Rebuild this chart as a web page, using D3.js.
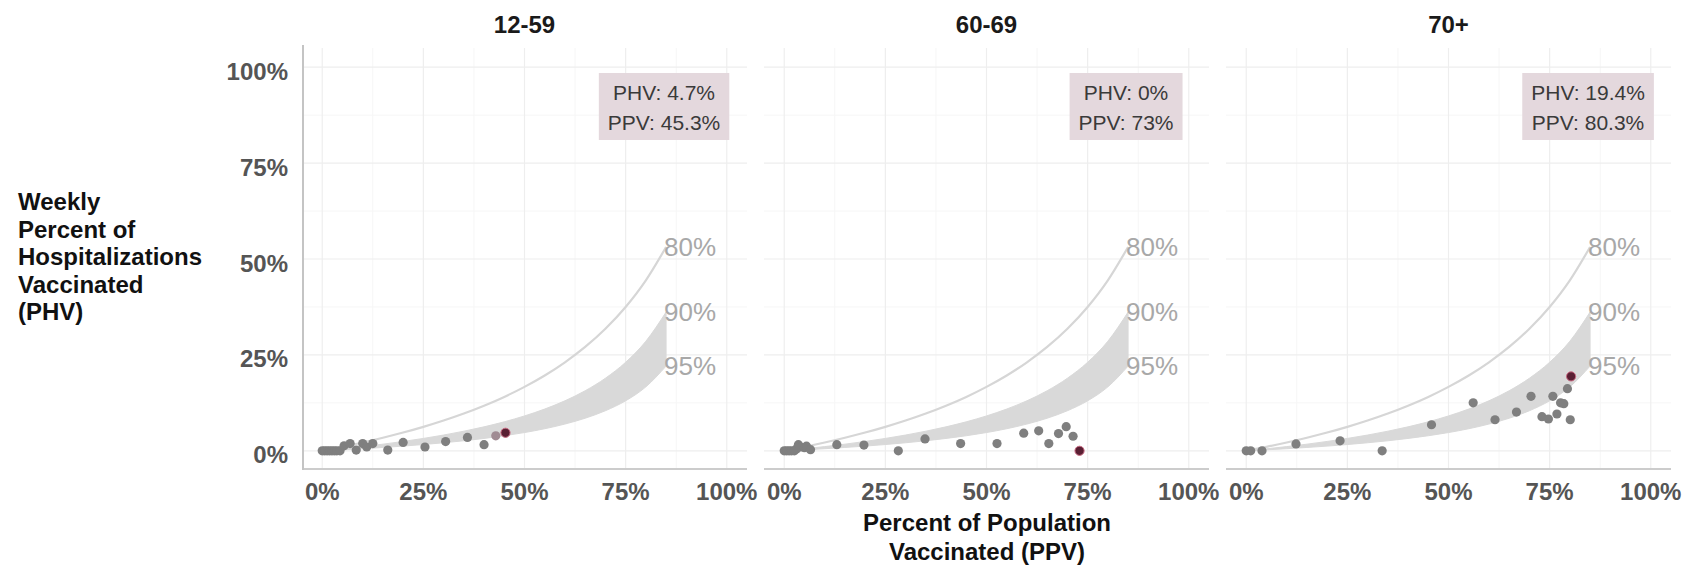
<!DOCTYPE html>
<html>
<head>
<meta charset="utf-8">
<script src="https://cdn.jsdelivr.net/npm/d3@7"></script>
<style>
  html, body { margin: 0; padding: 0; background: #ffffff; }
  svg { display: block; font-family: "Liberation Sans", Arial, Helvetica, sans-serif; }
</style>
</head>
<body>
<svg id="chart" width="1683" height="568"></svg>
<script>
// ---------------- DATA ----------------
const panelTitles = ["12-59", "60-69", "70+"];

// weekly points (percent)
const ppv_12_59 = [0, 0.6, 1.2, 1.8, 2.4, 3.0, 3.6, 4.4, 5.4, 6.9, 8.4, 10.0, 11.0, 12.5, 16.2, 20.0, 25.4, 30.5, 35.9, 40.0, 42.9, 45.3];
const phv_12_59 = [0, 0, 0, 0, 0, 0, 0, 0, 1.3, 1.9, 0.2, 1.9, 1.0, 1.9, 0.2, 2.2, 1.0, 2.4, 3.5, 1.6, 3.9, 4.7];

const ppv_60_69 = [0, 0.6, 1.2, 1.8, 2.5, 3.0, 3.5, 4.0, 5.0, 5.5, 6.5, 13.0, 19.7, 28.2, 34.8, 43.6, 52.6, 59.2, 62.9, 65.4, 67.8, 69.7, 71.4, 73.0];
const phv_60_69 = [0, 0, 0, 0, 0, 0.5, 1.6, 1.0, 0.8, 1.2, 0.3, 1.6, 1.5, 0, 3.1, 1.9, 1.9, 4.6, 5.2, 1.9, 4.5, 6.3, 3.8, 0];

const ppv_70 = [0, 1.1, 3.9, 12.3, 23.2, 33.6, 45.8, 56.1, 61.5, 66.8, 70.4, 73.1, 74.7, 75.8, 76.8, 77.7, 78.5, 79.4, 80.1, 80.3];
const phv_70 = [0, 0, 0, 1.8, 2.6, 0, 6.8, 12.5, 8.1, 10.1, 14.2, 8.9, 8.3, 14.2, 9.6, 12.5, 12.3, 16.2, 8.1, 19.4];

// latest-week annotation values
const latestPHV = ["4.7%", "0%", "19.4%"];
const latestPPV = ["45.3%", "73%", "80.3%"];

// reference curves (vaccine effectiveness), percent
const curvePPV = [0, 5, 10, 15, 20, 25, 30, 35, 40, 45, 50, 55, 60, 65, 70, 75, 80, 85];
const curve80  = [0, 1.04, 2.17, 3.41, 4.76, 6.25, 7.89, 9.72, 11.76, 14.06, 16.67, 19.64, 23.08, 27.08, 31.82, 37.5, 44.44, 53.13];
const curve90  = [0, 0.52, 1.10, 1.73, 2.44, 3.23, 4.11, 5.11, 6.25, 7.56, 9.09, 10.89, 13.04, 15.66, 18.92, 23.08, 28.57, 36.17];
const curve95  = [0, 0.26, 0.55, 0.88, 1.23, 1.64, 2.10, 2.62, 3.23, 3.93, 4.76, 5.76, 6.98, 8.50, 10.45, 13.04, 16.67, 22.08];
const curveLabels = ["80%", "90%", "95%"];

const tickValues = [0, 25, 50, 75, 100];
const tickLabels = ["0%", "25%", "50%", "75%", "100%"];
const minorValues = [12.5, 37.5, 62.5, 87.5];

const yTitleLines = ["Weekly", "Percent of", "Hospitalizations", "Vaccinated", "(PHV)"];
const xTitleLines = ["Percent of Population", "Vaccinated (PPV)"];

// ---------------- LAYOUT ----------------
const svg = d3.select("#chart");
const panelLefts = [302, 764, 1226];
const panelW = 445;
const panelTop = 48, panelBottom = 470;

const y = d3.scaleLinear().domain([-5, 105]).range([panelBottom, panelTop]);

const pointSets = [
  ppv_12_59.map((v, i) => ({ x: v, y: phv_12_59[i] })),
  ppv_60_69.map((v, i) => ({ x: v, y: phv_60_69[i] })),
  ppv_70.map((v, i) => ({ x: v, y: phv_70[i] }))
];

const curveRows80 = curvePPV.map((v, i) => ({ x: v, y: curve80[i] }));
const bandRows = curvePPV.map((v, i) => ({ x: v, y0: curve95[i], y1: curve90[i] }));
const curveEnds = [curve80[curve80.length - 1], curve90[curve90.length - 1], curve95[curve95.length - 1]];
const xEnd = curvePPV[curvePPV.length - 1];

panelTitles.forEach((title, p) => {
  const x = d3.scaleLinear().domain([-5, 105]).range([panelLefts[p], panelLefts[p] + panelW]);
  const g = svg.append("g");

  // minor grid
  g.selectAll(".vminor").data(minorValues).join("line")
    .attr("x1", d => x(d)).attr("x2", d => x(d))
    .attr("y1", panelTop).attr("y2", panelBottom)
    .attr("stroke", "#f6f6f6").attr("stroke-width", 1);
  g.selectAll(".hminor").data(minorValues).join("line")
    .attr("x1", panelLefts[p]).attr("x2", panelLefts[p] + panelW)
    .attr("y1", d => y(d)).attr("y2", d => y(d))
    .attr("stroke", "#f6f6f6").attr("stroke-width", 1);
  // major grid
  g.selectAll(".vmajor").data(tickValues).join("line")
    .attr("x1", d => x(d)).attr("x2", d => x(d))
    .attr("y1", panelTop).attr("y2", panelBottom)
    .attr("stroke", "#eeeeee").attr("stroke-width", 1.2);
  g.selectAll(".hmajor").data(tickValues).join("line")
    .attr("x1", panelLefts[p]).attr("x2", panelLefts[p] + panelW)
    .attr("y1", d => y(d)).attr("y2", d => y(d))
    .attr("stroke", "#eeeeee").attr("stroke-width", 1.2);

  // band between 90% and 95%
  g.append("path").datum(bandRows)
    .attr("d", d3.area().x(d => x(d.x)).y0(d => y(d.y0)).y1(d => y(d.y1)).curve(d3.curveMonotoneX))
    .attr("fill", "#d9d9d9").attr("stroke", "#d9d9d9").attr("stroke-width", 1);

  // 80% line
  g.append("path").datum(curveRows80)
    .attr("d", d3.line().x(d => x(d.x)).y(d => y(d.y)).curve(d3.curveMonotoneX))
    .attr("fill", "none").attr("stroke", "#d6d6d6").attr("stroke-width", 2.2);

  // curve labels
  curveLabels.forEach((lab, i) => {
    g.append("text").attr("x", x(xEnd) - 2).attr("y", y(curveEnds[i]))
      .attr("dominant-baseline", "central")
      .attr("font-size", 26).attr("fill", "#a8a8a8").text(lab);
  });

  // points
  const pts = pointSets[p];
  const n = pts.length;
  g.selectAll(".pt").data(pts).join("circle")
    .attr("cx", d => x(d.x)).attr("cy", d => y(d.y)).attr("r", 4.6)
    .attr("fill", (d, i) => i === n - 1 ? "#5a1f33" : (p === 0 && i === n - 2 ? "#a08b93" : "#7f7f7f"))
    .attr("stroke", (d, i) => i === n - 1 ? "#c96a82" : "none")
    .attr("stroke-width", 1);

  // x axis line
  g.append("line").attr("x1", panelLefts[p]).attr("x2", panelLefts[p] + panelW)
    .attr("y1", panelBottom - 1).attr("y2", panelBottom - 1)
    .attr("stroke", "#cccccc").attr("stroke-width", 2);
  // y axis line only in first panel
  if (p === 0) {
    g.append("line").attr("x1", panelLefts[p] + 1).attr("x2", panelLefts[p] + 1)
      .attr("y1", panelTop - 3).attr("y2", panelBottom)
      .attr("stroke", "#c4c4c4").attr("stroke-width", 2);
    g.selectAll(".ylab").data(tickValues).join("text")
      .attr("x", panelLefts[p] - 14).attr("y", d => y(d) + 4)
      .attr("text-anchor", "end").attr("dominant-baseline", "central")
      .attr("font-size", 24).attr("font-weight", "bold").attr("fill", "#555555")
      .text((d, i) => tickLabels[i]);
  }

  // x tick labels
  g.selectAll(".xlab").data(tickValues).join("text")
    .attr("x", d => x(d)).attr("y", 500)
    .attr("text-anchor", "middle")
    .attr("font-size", 24).attr("font-weight", "bold").attr("fill", "#555555")
    .text((d, i) => tickLabels[i]);

  // panel title
  g.append("text").attr("x", panelLefts[p] + panelW / 2).attr("y", 33)
    .attr("text-anchor", "middle").attr("font-size", 24).attr("font-weight", "bold")
    .attr("fill", "#1a1a1a").text(title);

  // annotation label
  const lines = ["PHV: " + latestPHV[p], "PPV: " + latestPPV[p]];
  const lab = g.append("g");
  const t1 = lab.append("text").attr("x", x(84.5)).attr("y", 100).attr("text-anchor", "middle")
    .attr("font-size", 21).attr("fill", "#3a3a3a").text(lines[0]);
  const t2 = lab.append("text").attr("x", x(84.5)).attr("y", 130).attr("text-anchor", "middle")
    .attr("font-size", 21).attr("fill", "#3a3a3a").text(lines[1]);
  const w = Math.max(t1.node().getComputedTextLength(), t2.node().getComputedTextLength()) + 18;
  lab.insert("rect", "text").attr("x", x(84.5) - w / 2).attr("y", 73).attr("width", w).attr("height", 67)
    .attr("fill", "#e4d8dd");
});

// y title
svg.append("text").attr("font-size", 24).attr("font-weight", "bold").attr("fill", "#111")
  .selectAll("tspan").data(yTitleLines).join("tspan")
  .attr("x", 18).attr("y", (d, i) => 210 + i * 27.5).text(d => d);

// x title
svg.append("text").attr("font-size", 24).attr("font-weight", "bold").attr("fill", "#111")
  .attr("text-anchor", "middle")
  .selectAll("tspan").data(xTitleLines).join("tspan")
  .attr("x", 987).attr("y", (d, i) => 531 + i * 29).text(d => d);
</script>
</body>
</html>
